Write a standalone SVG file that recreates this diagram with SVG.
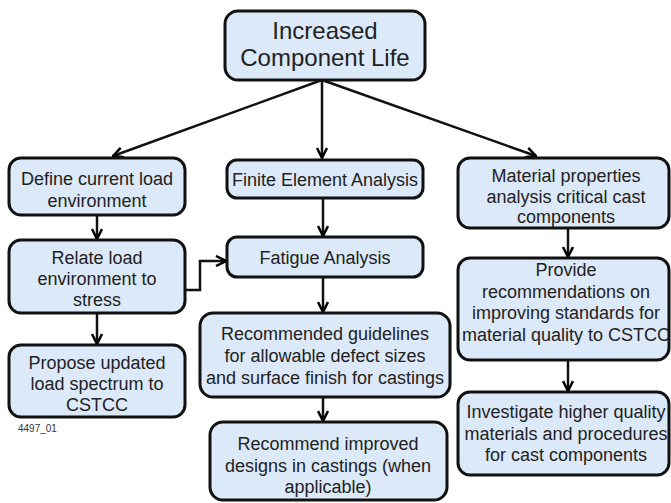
<svg xmlns="http://www.w3.org/2000/svg" width="671" height="503" viewBox="0 0 671 503">
<defs>
<marker id="arr" viewBox="0 0 12 12" refX="11" refY="6" markerWidth="12" markerHeight="12" markerUnits="userSpaceOnUse" orient="auto">
<path d="M1,1 L11,6 L1,11" fill="none" stroke="#000" stroke-width="2.5"/>
</marker>
</defs>
<style>
.box{fill:#dce9f8;stroke:#111;stroke-width:3}
.t{font-family:"Liberation Sans",Arial,sans-serif;font-size:18px;fill:#222;text-anchor:middle}
.big{font-size:24px}
.c{fill:none;stroke:#111;stroke-width:2.5;marker-end:url(#arr)}
.lbl{font-family:"Liberation Sans",Arial,sans-serif;font-size:10px;fill:#333}
</style>
<rect width="671" height="503" fill="#fff"/>
<g id="connectors">
<line class="c" x1="322" y1="80" x2="113" y2="156"/>
<line class="c" x1="322" y1="80" x2="322" y2="158"/>
<line class="c" x1="322" y1="80" x2="536" y2="156"/>
<line class="c" x1="97" y1="215" x2="97" y2="239"/>
<line class="c" x1="97" y1="313" x2="97" y2="344"/>
<polyline class="c" points="185,290 200,290 200,261 226,261"/>
<line class="c" x1="323" y1="198" x2="323" y2="236"/>
<line class="c" x1="323" y1="277" x2="323" y2="312"/>
<line class="c" x1="323" y1="397" x2="323" y2="421"/>
<line class="c" x1="568" y1="228" x2="568" y2="257"/>
<line class="c" x1="568" y1="360" x2="568" y2="391"/>
</g>
<g id="n-top">
<rect class="box" x="225" y="11" width="200" height="69" rx="13"/>
<text class="t big" x="325" y="39">Increased</text>
<text class="t big" x="325" y="66">Component Life</text>
</g>
<g id="n-define">
<rect class="box" x="9" y="158" width="176" height="57" rx="12"/>
<text class="t" x="97" y="185">Define current load</text>
<text class="t" x="97" y="207">environment</text>
</g>
<g id="n-relate">
<rect class="box" x="9" y="240" width="176" height="73" rx="12"/>
<text class="t" x="97" y="264">Relate load</text>
<text class="t" x="97" y="285">environment to</text>
<text class="t" x="97" y="306">stress</text>
</g>
<g id="n-propose">
<rect class="box" x="9" y="345" width="176" height="72" rx="12"/>
<text class="t" x="97" y="369">Propose updated</text>
<text class="t" x="97" y="390">load spectrum to</text>
<text class="t" x="97" y="411">CSTCC</text>
</g>
<text class="lbl" x="18" y="432">4497_01</text>
<g id="n-fea">
<rect class="box" x="227" y="160" width="196" height="38" rx="10"/>
<text class="t" x="325" y="186">Finite Element Analysis</text>
</g>
<g id="n-fatigue">
<rect class="box" x="227" y="237" width="196" height="40" rx="10"/>
<text class="t" x="325" y="264">Fatigue Analysis</text>
</g>
<g id="n-guidelines">
<rect class="box" x="200" y="313" width="250" height="84" rx="13"/>
<text class="t" x="325" y="340">Recommended guidelines</text>
<text class="t" x="325" y="362">for allowable defect sizes</text>
<text class="t" x="325" y="384">and surface finish for castings</text>
</g>
<g id="n-improved">
<rect class="box" x="210" y="422" width="237" height="78" rx="13"/>
<text class="t" x="328" y="450">Recommend improved</text>
<text class="t" x="328" y="472">designs in castings (when</text>
<text class="t" x="328" y="493">applicable)</text>
</g>
<g id="n-material">
<rect class="box" x="458" y="158" width="211" height="70" rx="12"/>
<text class="t" x="566" y="182">Material properties</text>
<text class="t" x="566" y="203">analysis critical cast</text>
<text class="t" x="566" y="223">components</text>
</g>
<g id="n-provide">
<rect class="box" x="458" y="258" width="211" height="102" rx="12"/>
<text class="t" x="566" y="276">Provide</text>
<text class="t" x="566" y="298">recommendations on</text>
<text class="t" x="566" y="319">improving standards for</text>
<text class="t" x="566" y="341">material quality to CSTCC</text>
</g>
<g id="n-investigate">
<rect class="box" x="458" y="392" width="211" height="83" rx="12"/>
<text class="t" x="566" y="418">Investigate higher quality</text>
<text class="t" x="566" y="440">materials and procedures</text>
<text class="t" x="566" y="461">for cast components</text>
</g>
</svg>
